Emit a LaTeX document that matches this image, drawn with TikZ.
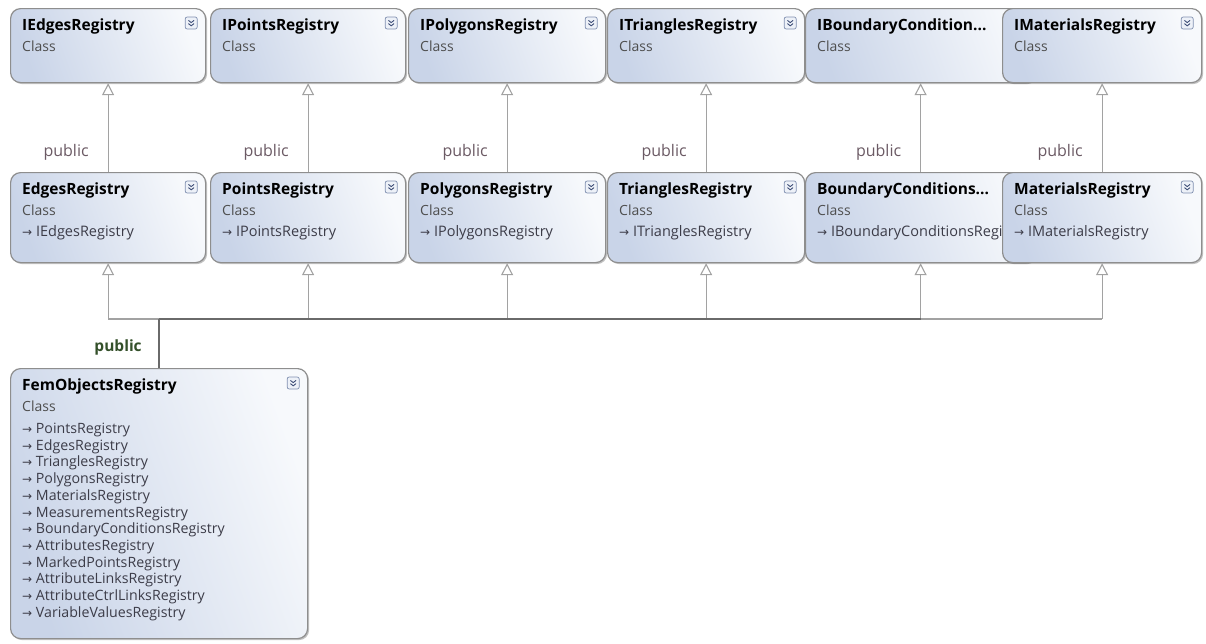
\documentclass[tikz,border=0pt]{standalone}
\usepackage{fontspec}
\setmainfont{Open Sans}
\newfontfamily\arrowfont{DejaVu Sans}
\usetikzlibrary{arrows.meta,shadows,calc}
\definecolor{boxborder}{HTML}{8E8E8E}
\definecolor{boxleft}{HTML}{C9D4E8}
\definecolor{boxright}{HTML}{F7F9FC}
\definecolor{linegray}{HTML}{A2A2A2}
\definecolor{linedark}{HTML}{6A6A6A}
\definecolor{pubcolor}{HTML}{6B5A64}
\definecolor{classgray}{HTML}{4E4E4E}
\definecolor{impltext}{HTML}{3C3C48}
\definecolor{chevborder}{HTML}{8090B0}
\definecolor{chevfill}{HTML}{EDF1F8}
\definecolor{chevdark}{HTML}{3F4F78}
\definecolor{pubgreen}{HTML}{34502A}
\tikzset{
  x=1pt, y=-1pt,
  cbox/.style={draw=boxborder, line width=1.2pt, rounded corners=10pt,
    left color=boxleft, right color=boxright, shading angle=110,
    anchor=north west, inner sep=0pt,
    drop shadow={shadow xshift=1.5pt, shadow yshift=-1.5pt, opacity=0.35, fill=black!70}},
  ttl/.style={anchor=west, inner sep=0pt, text height=11pt, text depth=3pt,
    font=\fontsize{15.5}{17}\selectfont\bfseries, text=black},
  cls/.style={anchor=west, inner sep=0pt, text height=10pt, text depth=3pt,
    font=\fontsize{14}{16}\selectfont, text=classgray},
  impl/.style={anchor=west, inner sep=0pt, text height=10pt, text depth=3pt,
    font=\fontsize{14.5}{16}\selectfont, text=impltext},
  flist/.style={anchor=west, inner sep=0pt, text height=10pt, text depth=3pt,
    font=\fontsize{14.2}{16}\selectfont, text=impltext},
  chev/.style={draw=chevborder, fill=chevfill, rounded corners=2pt, minimum size=12pt,
    inner sep=0pt, line width=0.7pt,
    path picture={
      \draw[chevdark, line width=0.9pt, sharp corners]
        ([xshift=-2.8pt,yshift=2.6pt]path picture bounding box.center) -- ++(2.8pt,-2.2pt) -- ++(2.8pt,2.2pt);
      \draw[chevdark, line width=0.9pt, sharp corners]
        ([xshift=-2.8pt,yshift=-0.6pt]path picture bounding box.center) -- ++(2.8pt,-2.2pt) -- ++(2.8pt,2.2pt);}},
  inh/.style={draw=linegray, line width=1.1pt,
    -{Triangle[open, fill=white, width=12pt, length=12pt, line width=1.1pt]}},
  busl/.style={draw=linegray, line width=1.1pt},
  busd/.style={draw=linedark, line width=1.5pt},
  pub/.style={xshift=-42pt, inner sep=0pt, font=\fontsize{16}{18}\selectfont, text=pubcolor},
  pubg/.style={xshift=-41pt, inner sep=0pt, font=\fontsize{15.5}{17}\selectfont\bfseries, text=pubgreen},
}
\newcommand{\umlbox}[6]{%
  \node[cbox, minimum width=#4pt, minimum height=#5pt] (#1) at (#2,#3) {};
  \node[ttl] (#1-t) at ($(#1.north west)+(12,18)$) {#6};
  \node[cls] (#1-c) at ($(#1.north west)+(12,40)$) {Class};}
\newcommand{\umlchev}[1]{\node[chev] (#1-x) at ($(#1.north east)+(-15,15)$) {};}
\newcommand{\umlarr}{{\arrowfont\fontsize{12}{12}\selectfont →}}
\newcommand{\umlimpl}[2]{\node[impl] (#1-i) at ($(#1.north west)+(12,61)$) {\umlarr\ #2};}
\begin{document}
\begin{tikzpicture}
\useasboundingbox (0,0) rectangle (1206,643);
% top row (interfaces)
\umlbox{ie}{10}{8}{195}{74}{IEdgesRegistry}\umlchev{ie}
\umlbox{ip}{210}{8}{195}{74}{IPointsRegistry}\umlchev{ip}
\umlbox{ipo}{408}{8}{197}{74}{IPolygonsRegistry}\umlchev{ipo}
\umlbox{it}{607}{8}{197}{74}{ITrianglesRegistry}\umlchev{it}
\umlbox{ib}{805}{8}{230}{74}{IBoundaryCondition...}
\umlbox{im}{1002}{8}{199}{74}{IMaterialsRegistry}\umlchev{im}
% middle row (classes)
\umlbox{e}{10}{172}{195}{90}{EdgesRegistry}\umlchev{e}\umlimpl{e}{IEdgesRegistry}
\umlbox{p}{210}{172}{195}{90}{PointsRegistry}\umlchev{p}\umlimpl{p}{IPointsRegistry}
\umlbox{po}{408}{172}{197}{90}{PolygonsRegistry}\umlchev{po}\umlimpl{po}{IPolygonsRegistry}
\umlbox{t}{607}{172}{197}{90}{TrianglesRegistry}\umlchev{t}\umlimpl{t}{ITrianglesRegistry}
\umlbox{b}{805}{172}{230}{90}{BoundaryConditions...}\umlimpl{b}{IBoundaryConditionsRegi}
\umlbox{m}{1002}{172}{199}{90}{MaterialsRegistry}\umlchev{m}\umlimpl{m}{IMaterialsRegistry}
% bottom class
\umlbox{fem}{10}{368}{297}{270}{FemObjectsRegistry}\umlchev{fem}
\foreach \txt [count=\i] in {PointsRegistry,EdgesRegistry,TrianglesRegistry,PolygonsRegistry,
  MaterialsRegistry,MeasurementsRegistry,BoundaryConditionsRegistry,AttributesRegistry,
  MarkedPointsRegistry,AttributeLinksRegistry,AttributeCtrlLinksRegistry,VariableValuesRegistry}
  \node[flist] (fl\i) at ($(fem.north west)+(12,62+16.7*\i-16.7)$) {\umlarr\ \txt};
% interface realisations
\draw[inh] (e.north) -- node[pub, pos=0.22] (pl1) {public} (ie.south);
\draw[inh] (p.north) -- node[pub, pos=0.22] (pl2) {public} (ip.south);
\draw[inh] (po.north) -- node[pub, pos=0.22] (pl3) {public} (ipo.south);
\draw[inh] (t.north) -- node[pub, pos=0.22] (pl4) {public} (it.south);
\draw[inh] (b.north) -- node[pub, pos=0.22] (pl5) {public} (ib.south);
\draw[inh] (m.north) -- node[pub, pos=0.22] (pl6) {public} (im.south);
% inheritance bus
\coordinate (bus) at (fem.north |- 0,319);
\coordinate (j1) at (e.south |- bus);
\coordinate (j2) at (p.south |- bus);
\coordinate (j3) at (po.south |- bus);
\coordinate (j4) at (t.south |- bus);
\coordinate (j5) at (b.south |- bus);
\coordinate (j6) at (m.south |- bus);
\draw[busl] (j1) -- (bus);
\draw[busl] (j5) -- (j6);
\foreach \j/\n in {j1/e,j2/p,j3/po,j4/t,j5/b,j6/m}
  \draw[inh] (\j) -- (\n.south);
\draw[busd] (bus) -- (j5);
\draw[busd] (fem.north) -- node[pubg, pos=0.41] (pl7) {public} (bus);
\end{tikzpicture}
\end{document}
